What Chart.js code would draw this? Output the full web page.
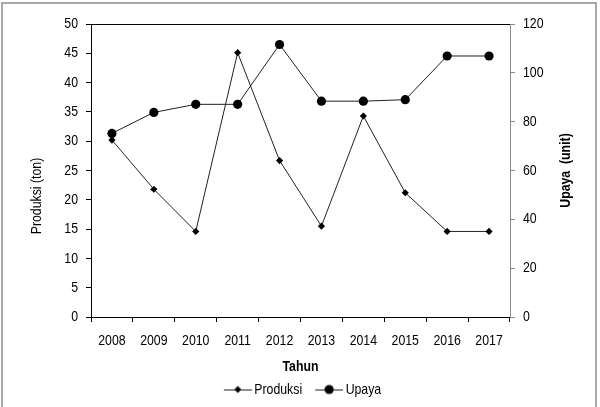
<!DOCTYPE html>
<html>
<head>
<meta charset="utf-8">
<script src="https://cdn.jsdelivr.net/npm/chart.js@4.4.1/dist/chart.umd.min.js"></script>
<style>
  html, body { margin: 0; padding: 0; background: #fff; }
  #wrap { width: 600px; height: 407px; position: relative; }
</style>
</head>
<body>
<div id="wrap"><canvas id="c" width="600" height="407"></canvas></div>
<script>
const years = ['2008','2009','2010','2011','2012','2013','2014','2015','2016','2017'];
const produksi = [30.2, 21.8, 14.6, 45.1, 26.7, 15.5, 34.3, 21.2, 14.6, 14.6];
const upaya = [75.2, 83.8, 87.1, 87.1, 111.6, 88.4, 88.4, 89.0, 106.9, 106.9];
const leftTicks = [0, 5, 10, 15, 20, 25, 30, 35, 40, 45, 50];
const rightTicks = [0, 20, 40, 60, 80, 100, 120];

const FONT = "'Liberation Sans', Arial, sans-serif";
const FS = 15;
const SX = 0.82; // narrow (Arial Narrow-like) text
const LINE = '#222';

const canvas = document.getElementById('c');
const ctx0 = canvas.getContext('2d');
(function narrowText(ctx) {
  const origFill = ctx.fillText.bind(ctx);
  const origMeasure = ctx.measureText.bind(ctx);
  ctx.fillText = function (t, x, y, mw) {
    ctx.save();
    ctx.translate(x, y);
    ctx.scale(SX, 1);
    if (mw !== undefined && mw !== null) origFill(t, 0, 0, mw / SX);
    else origFill(t, 0, 0);
    ctx.restore();
  };
  ctx.measureText = function (t) {
    const m = origMeasure(t);
    return {
      width: m.width * SX,
      actualBoundingBoxAscent: m.actualBoundingBoxAscent,
      actualBoundingBoxDescent: m.actualBoundingBoxDescent,
      actualBoundingBoxLeft: m.actualBoundingBoxLeft * SX,
      actualBoundingBoxRight: m.actualBoundingBoxRight * SX,
      fontBoundingBoxAscent: m.fontBoundingBoxAscent,
      fontBoundingBoxDescent: m.fontBoundingBoxDescent
    };
  };
})(ctx0);

function legendIcon(style) {
  const cv = document.createElement('canvas');
  cv.width = 38; cv.height = 12;
  const g = cv.getContext('2d');
  g.strokeStyle = LINE; g.lineWidth = 1;
  g.beginPath(); g.moveTo(10, 6.5); g.lineTo(38, 6.5); g.stroke();
  g.fillStyle = '#000';
  g.beginPath();
  if (style === 'diamond') {
    g.moveTo(24, 2.5); g.lineTo(27.5, 6); g.lineTo(24, 9.5); g.lineTo(20.5, 6); g.closePath();
  } else {
    g.arc(24, 6, 4.6, 0, Math.PI * 2);
  }
  g.fill();
  return cv;
}
const icons = [legendIcon('diamond'), legendIcon('circle')];

function vText(ctx, text, x, y, font) {
  ctx.save();
  ctx.translate(x, y);
  ctx.rotate(-Math.PI / 2);
  ctx.fillStyle = '#000';
  ctx.font = font;
  ctx.textAlign = 'center';
  ctx.textBaseline = 'middle';
  ctx.fillText(text, 0, 0);
  ctx.restore();
}

const framePlugin = {
  id: 'frame',
  beforeDraw(chart) {
    const ctx = chart.ctx;
    ctx.save();
    ctx.fillStyle = '#fff';
    ctx.fillRect(0, 0, chart.width, chart.height);
    ctx.strokeStyle = '#a8a8a8';
    ctx.lineWidth = 2;
    ctx.strokeRect(2, 3, 594, 420);
    ctx.restore();
  },
  afterDraw(chart) {
    const ctx = chart.ctx;
    const a = chart.chartArea;
    ctx.save();
    ctx.strokeStyle = '#000';
    ctx.lineWidth = 1;
    ctx.beginPath();
    ctx.moveTo(a.left, a.top + 0.5);
    ctx.lineTo(a.right, a.top + 0.5);
    ctx.stroke();
    ctx.restore();
    vText(ctx, 'Produksi (ton)', 37, 196, FS + 'px ' + FONT);
    vText(ctx, 'Upaya  (unit)', 566, (a.top + a.bottom) / 2, 'bold ' + FS + 'px ' + FONT);
  }
};

new Chart(canvas, {
  type: 'line',
  data: {
    labels: years,
    datasets: [
      {
        label: 'Produksi',
        data: produksi,
        yAxisID: 'y',
        borderColor: LINE,
        borderWidth: 1,
        backgroundColor: '#000',
        pointStyle: 'rectRot',
        pointRadius: 3.6,
        pointBorderWidth: 0,
        pointBackgroundColor: '#000',
        tension: 0
      },
      {
        label: 'Upaya',
        data: upaya,
        yAxisID: 'y1',
        borderColor: LINE,
        borderWidth: 1,
        backgroundColor: '#000',
        pointStyle: 'circle',
        pointRadius: 4.6,
        pointBorderWidth: 0,
        pointBackgroundColor: '#000',
        tension: 0
      }
    ]
  },
  options: {
    responsive: false,
    animation: false,
    devicePixelRatio: 1,
    layout: { padding: { top: 24, left: 0, right: 0, bottom: 0 } },
    plugins: {
      tooltip: { enabled: false },
      legend: {
        position: 'bottom',
        labels: {
          usePointStyle: true,
          pointStyleWidth: 28,
          padding: 8,
          color: '#000',
          font: { family: FONT, size: FS },
          generateLabels(chart) {
            return chart.data.datasets.map((ds, i) => ({
              text: ds.label,
              fillStyle: '#000',
              strokeStyle: LINE,
              lineWidth: 0,
              pointStyle: icons[i],
              datasetIndex: i,
              hidden: false,
              fontColor: '#000'
            }));
          }
        }
      }
    },
    scales: {
      x: {
        type: 'category',
        offset: true,
        afterFit(s) { s.height = 57; },
        border: { display: true, color: '#000', width: 1 },
        grid: { display: true, drawOnChartArea: false, drawTicks: true, tickLength: 5, color: '#000', offset: true },
        ticks: { color: '#000', padding: 10, font: { family: FONT, size: FS }, maxRotation: 0 },
        title: { display: true, text: 'Tahun', color: '#000', font: { family: FONT, size: FS, weight: 'bold' }, padding: { top: 0, bottom: -2 } }
      },
      y: {
        position: 'left',
        min: 0, max: 50,
        afterBuildTicks(s) { s.ticks = leftTicks.map(v => ({ value: v })); },
        afterFit(s) { s.width = 91; },
        border: { display: true, color: '#000', width: 1 },
        grid: { display: true, drawOnChartArea: false, drawTicks: true, tickLength: 5, color: '#000' },
        ticks: { color: '#000', padding: 8, font: { family: FONT, size: FS } }
      },
      y1: {
        position: 'right',
        min: 0, max: 120,
        afterBuildTicks(s) { s.ticks = rightTicks.map(v => ({ value: v })); },
        afterFit(s) { s.width = 90; },
        border: { display: true, color: '#8a8a8a', width: 1 },
        grid: { display: true, drawOnChartArea: false, drawTicks: true, tickLength: 5, color: '#8a8a8a' },
        ticks: { color: '#000', padding: 8, font: { family: FONT, size: FS } }
      }
    }
  },
  plugins: [framePlugin]
});
</script>
</body>
</html>
